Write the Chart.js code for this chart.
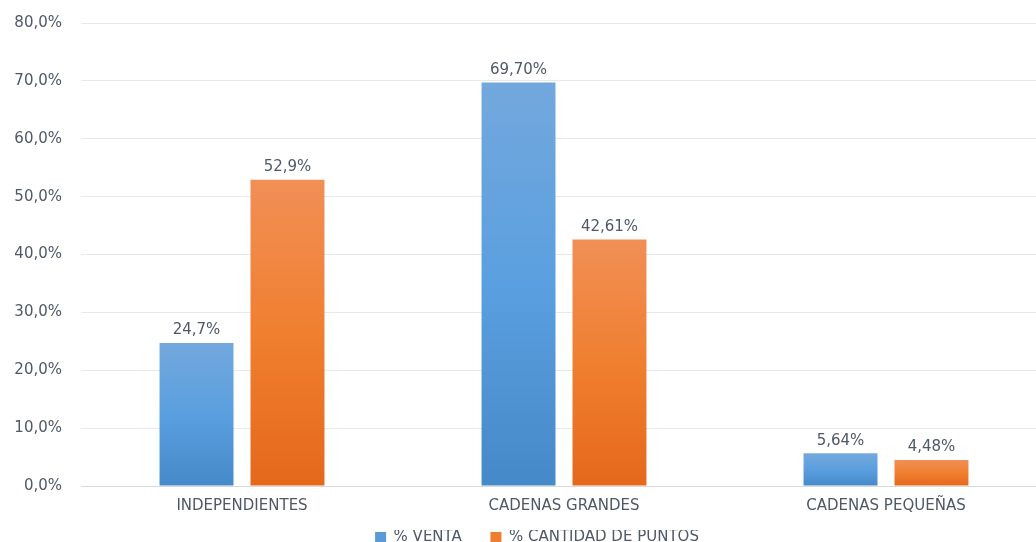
<!DOCTYPE html>
<html>
<head>
<meta charset="utf-8">
<script src="https://cdn.jsdelivr.net/npm/chart.js@4"></script>
<style>
  html, body { margin:0; padding:0; overflow:hidden; background:#fff; }
  #wrap { width:1074px; height:542px; }
</style>
</head>
<body>
<div id="wrap"><canvas id="chart" width="1074" height="542"></canvas></div>
<script>
const categories = ['INDEPENDIENTES', 'CADENAS GRANDES', 'CADENAS PEQUEÑAS'];
const venta = [24.7, 69.7, 5.64];
const puntos = [52.9, 42.61, 4.48];
const ventaLabels = ['24,7%', '69,70%', '5,64%'];
const puntosLabels = ['52,9%', '42,61%', '4,48%'];
const yTicks = [0, 10, 20, 30, 40, 50, 60, 70, 80];

const FONT = '"DejaVu Sans", sans-serif';
const TXT = '#4f5867';

// vertical gradient per bar, from bar top down to the zero line
function barFill(top, mid, bottom) {
  return function (c) {
    const chart = c.chart, area = chart.chartArea;
    if (!area || c.raw == null) return bottom;
    const y = chart.scales.y;
    const y0 = y.getPixelForValue(c.raw), y1 = y.getPixelForValue(0);
    const g = chart.ctx.createLinearGradient(0, y0, 0, y1);
    g.addColorStop(0, top);
    g.addColorStop(0.5, mid);
    g.addColorStop(1, bottom);
    return g;
  };
}

const valueLabels = {
  id: 'valueLabels',
  afterDatasetsDraw(chart) {
    const ctx = chart.ctx;
    ctx.save();
    ctx.font = '15px ' + FONT;
    ctx.fillStyle = TXT;
    ctx.textAlign = 'center';
    ctx.textBaseline = 'bottom';
    chart.data.datasets.forEach((ds, i) => {
      chart.getDatasetMeta(i).data.forEach((bar, j) => {
        ctx.fillText(ds.labels[j], bar.x, bar.y - 5);
      });
    });
    ctx.restore();
  }
};

// centre the legend on the whole canvas, not on the padded box
const legendShift = {
  id: 'legendShift',
  afterLayout(chart) {
    const r = chart.options.layout.padding.right / 2;
    chart.legend.left += r;
    chart.legend.right += r;
  }
};

new Chart(document.getElementById('chart'), {
  type: 'bar',
  data: {
    labels: categories,
    datasets: [
      { label: '% VENTA', data: venta, labels: ventaLabels,
        backgroundColor: barFill('#73a8dd', '#5a9fdf', '#4689c9') },
      { label: '% CANTIDAD DE PUNTOS', data: puntos, labels: puntosLabels,
        backgroundColor: barFill('#f18f56', '#f07f30', '#e5681b') }
    ]
  },
  plugins: [valueLabels, legendShift],
  options: {
    responsive: false,
    animation: false,
    categoryPercentage: 0.565,
    barPercentage: 0.813,
    layout: { padding: { top: 23, right: 27, left: 0, bottom: -13 } },
    plugins: {
      tooltip: { enabled: false },
      legend: {
        position: 'bottom',
        labels: {
          color: TXT, boxWidth: 11, boxHeight: 11, padding: 0,
          font: { family: FONT, size: 15 },
          generateLabels(chart) {
            return chart.data.datasets.map((ds, i) => ({
              text: i === 0 ? ds.label + '      ' : ds.label,
              fillStyle: i === 0 ? '#5b9bd5' : '#ed7d31',
              fontColor: TXT,
              strokeStyle: 'transparent', lineWidth: 0,
              datasetIndex: i
            }));
          }
        }
      }
    },
    scales: {
      x: {
        afterFit(s) { s.height = 44; },
        grid: { display: false },
        border: { display: true, color: '#d9d9d9' },
        ticks: { color: TXT, font: { family: FONT, size: 15 }, padding: 3 }
      },
      y: {
        min: 0, max: 80,
        afterBuildTicks(s) { s.ticks = yTicks.map(v => ({ value: v })); },
        afterFit(s) { s.width = 81; s.paddingTop = 0; },
        grid: { color: '#e6e8eb', drawTicks: false },
        border: { display: false },
        ticks: {
          color: TXT, font: { family: FONT, size: 15 }, padding: 19,
          callback: v => v.toFixed(1).replace('.', ',') + '%'
        }
      }
    }
  }
});
</script>
</body>
</html>
